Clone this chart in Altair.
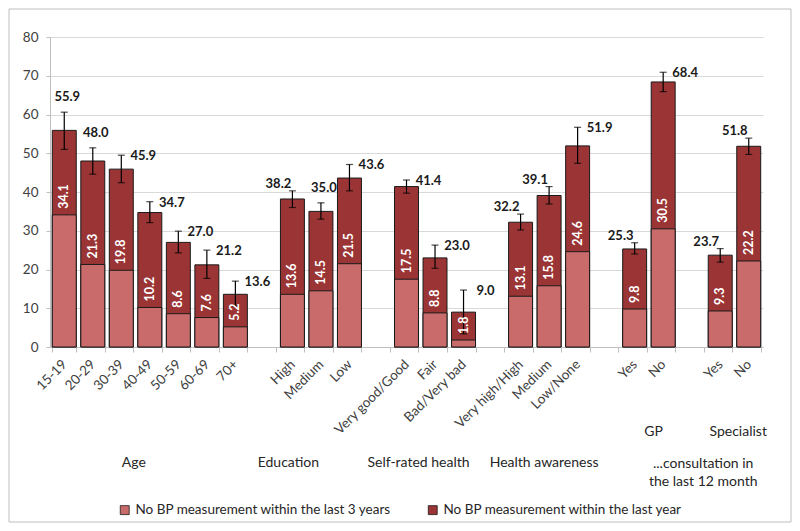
import altair as alt
import pandas as pd

# ---- data ----
categories = ["15-19", "20-29", "30-39", "40-49", "50-59", "60-69", "70+",
              "High", "Medium", "Low",
              "Very good/Good", "Fair", "Bad/Very bad",
              "Very high/High", "Medium", "Low/None",
              "Yes", "No",
              "Yes", "No"]
groups = (["Age"] * 7 + ["Education"] * 3 + ["Self-rated health"] * 3 +
          ["Health awareness"] * 3 + ["GP"] * 2 + ["Specialist"] * 2)
total = [55.9, 48.0, 45.9, 34.7, 27.0, 21.2, 13.6,
         38.2, 35.0, 43.6,
         41.4, 23.0, 9.0,
         32.2, 39.1, 51.9,
         25.3, 68.4,
         23.7, 51.8]
lower = [34.1, 21.3, 19.8, 10.2, 8.6, 7.6, 5.2,
         13.6, 14.5, 21.5,
         17.5, 8.8, 1.8,
         13.1, 15.8, 24.6,
         9.8, 30.5,
         9.3, 22.2]
ci_low = [51.0, 44.6, 42.4, 32.1, 24.3, 17.7, 10.6,
          36.0, 33.0, 40.3,
          39.7, 20.3, 3.4,
          30.2, 36.9, 47.4,
          24.0, 65.9,
          21.9, 49.7]
ci_high = [60.6, 51.4, 49.5, 37.5, 29.9, 25.0, 17.0,
           40.3, 37.2, 47.1,
           43.1, 26.3, 14.7,
           34.3, 41.4, 56.7,
           26.9, 70.9,
           25.4, 53.9]
# where the total label sits relative to its error bar
label_side = ["above", "above", "right", "right", "right", "right", "right",
              "left", "above", "right",
              "right", "right", "right",
              "left", "left", "right",
              "left", "right",
              "left", "left"]

group_titles = ["Age", "Education", "Self-rated health", "Health awareness",
                "GP", "Specialist", "...consultation in\nthe last 12 month"]
group_anchor_grp = ["Age", "Education", "Self-rated health", "Health awareness",
                    "GP", "Specialist", "Specialist"]
group_anchor_cat = ["40-49", "High", "Very good/Good", "Medium", "Yes", "Yes", "Yes"]

S3 = "No BP measurement within the last 3 years"
S1 = "No BP measurement within the last year"

# ---- tables ----
keys = [f"{g}|{c}" for g, c in zip(groups, categories)]
domain = []
gap = 0
for i, k in enumerate(keys):
    if i > 0 and groups[i] != groups[i - 1]:
        gap += 1
        domain.append(f"gap{gap}")
    domain.append(k)

df = pd.DataFrame({"key": keys, "total": total, "lower": lower,
                   "lo": ci_low, "hi": ci_high, "side": label_side})
df["total_txt"] = df["total"].map("{:.1f}".format)
df["lower_txt"] = df["lower"].map("{:.1f}".format)
df["s1"] = S1
df["s3"] = S3

gdf = pd.DataFrame({"text": group_titles,
                    "key": [f"{g}|{c}" for g, c in zip(group_anchor_grp, group_anchor_cat)]})

FONT = "Lato"
GRAY = "#bfbfbf"

label_expr = ("isString(datum.value) && indexof(datum.value, '|') >= 0 ? "
              "split(datum.value, '|')[1] : ''")
x_axis = alt.Axis(title=None, labelExpr=label_expr,
                  labelAngle=-45, labelAlign="right", labelBaseline="middle",
                  labelPadding=10, labelFontSize=13.5, labelColor="#404040",
                  labelFont=FONT, tickBand="extent", tickSize=5, tickColor=GRAY,
                  domainColor=GRAY, grid=False)
x_scale = alt.Scale(domain=domain, paddingInner=0.16, paddingOuter=0.08)
X = alt.X("key:N", scale=x_scale, axis=x_axis)

y_scale = alt.Scale(domain=[0, 80], nice=False)
y_axis = alt.Axis(title=None, values=list(range(0, 81, 10)), grid=True,
                  gridColor="#d9d9d9", tickSize=4, tickColor=GRAY,
                  domainColor=GRAY, labelFontSize=13.5, labelPadding=8,
                  labelColor="#404040", labelFont=FONT)


def Y(field):
    return alt.Y(f"{field}:Q", scale=y_scale, axis=y_axis)


color_scale = alt.Scale(domain=[S3, S1], range=["#c96b6b", "#9b3535"])
legend = alt.Legend(title=None, orient="none", legendX=68, legendY=466,
                    direction="horizontal", symbolType="square", symbolSize=80,
                    symbolStrokeColor="#1a1a1a", symbolStrokeWidth=0.8,
                    labelFontSize=13.5, labelFont=FONT, labelColor="#262626",
                    columnPadding=34, labelLimit=500)

base = alt.Chart(df)

bar_total = base.mark_bar(stroke="#1a1a1a", strokeWidth=1).encode(
    x=X, y=Y("total"),
    color=alt.Color("s1:N", scale=color_scale, legend=legend))
bar_lower = base.mark_bar(stroke="#1a1a1a", strokeWidth=1).encode(
    x=X, y=Y("lower"),
    color=alt.Color("s3:N", scale=color_scale, legend=legend))

err = base.mark_rule(color="black", strokeWidth=1.2).encode(
    x=X, y=Y("lo"), y2="hi:Q")
cap_lo = base.mark_tick(color="black", thickness=1.2, size=7).encode(x=X, y=Y("lo"))
cap_hi = base.mark_tick(color="black", thickness=1.2, size=7).encode(x=X, y=Y("hi"))

inner = base.mark_text(angle=270, align="left", baseline="middle", dx=6,
                       color="white", fontWeight="bold", fontSize=12.5,
                       font=FONT).encode(x=X, y=Y("lower"), text="lower_txt:N")

offsets = {"right": (22, 1), "above": (3, -15), "left": (-14, -7)}
tot_layers = []
for side, (ddx, ddy) in offsets.items():
    tot_layers.append(
        base.transform_filter(alt.datum.side == side).mark_text(
            dx=ddx, dy=ddy, fontWeight="bold", fontSize=13, font=FONT,
            color="#1a1a1a", align="center", baseline="middle"
        ).encode(x=X, y=Y("hi"), text="total_txt:N"))

# label placement (pixel nudges from the anchor band centre, and row)
grp_place = {"Age": (-16, 426), "Education": (-4, 426),
             "Self-rated health": (12, 426), "Health awareness": (-5, 426),
             "GP": (19, 395), "Specialist": (18, 395)}
grp_layers = []
for t in group_titles:
    ddx, yy = grp_place.get(t, (-17, 427))
    sub = gdf[gdf.text == t]
    grp_layers.append(
        alt.Chart(sub).mark_text(fontSize=14, font=FONT, color="#262626",
                                 align="center", baseline="middle", dx=ddx,
                                 lineBreak="\n", lineHeight=18).encode(
            x=X, y=alt.value(yy), text="text:N"))

frame = alt.Chart(pd.DataFrame({"a": [0]})).mark_rect(
    fillOpacity=0, stroke=GRAY, strokeWidth=1
).encode(x=alt.value(-41), x2=alt.value(741), y=alt.value(-28), y2=alt.value(485))

chart = alt.layer(bar_total, bar_lower, err, cap_lo, cap_hi, inner,
                  *tot_layers, *grp_layers, frame).properties(
    width=713, height=310,
    autosize=alt.AutoSizeParams(type="none"),
    padding={"left": 42, "top": 29, "right": 29, "bottom": 176},
).configure(font=FONT).configure_view(strokeWidth=0)

chart.save("out.html", embed_options={"renderer": "svg", "actions": False})
